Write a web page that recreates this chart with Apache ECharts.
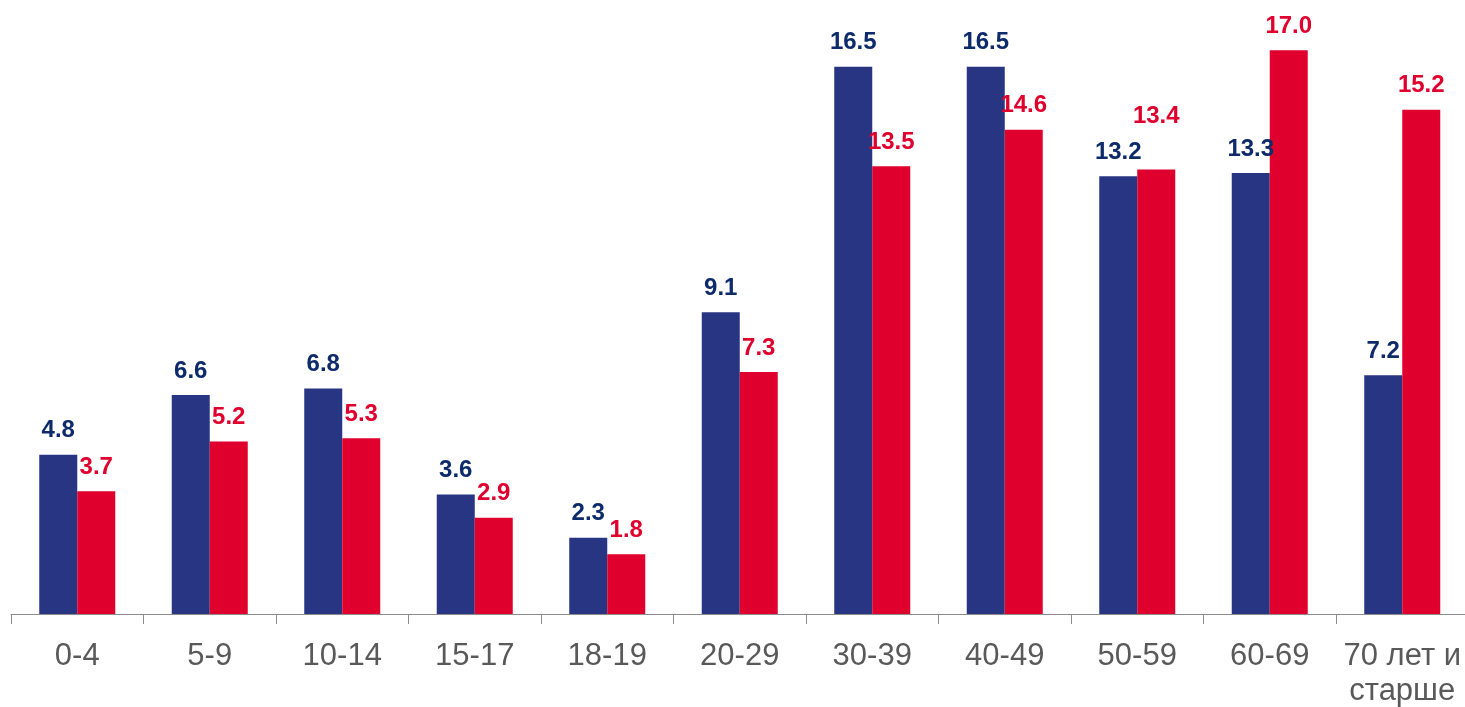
<!DOCTYPE html>
<html>
<head>
<meta charset="utf-8">
<script src="https://cdn.jsdelivr.net/npm/echarts@6/dist/echarts.min.js"></script>
<style>
  html, body { margin: 0; padding: 0; background: #fff; }
  #chart { width: 1465px; height: 707px; }
</style>
</head>
<body>
<div id="chart"></div>
<script>
const categories = ['0-4', '5-9', '10-14', '15-17', '18-19', '20-29', '30-39', '40-49', '50-59', '60-69', '70 лет и\nстарше'];
const blueValues = [4.8, 6.6, 6.8, 3.6, 2.3, 9.1, 16.5, 16.5, 13.2, 13.3, 7.2];
const redValues = [3.7, 5.2, 5.3, 2.9, 1.8, 7.3, 13.5, 14.6, 13.4, 17.0, 15.2];

const chart = echarts.init(document.getElementById('chart'));

const labelFont = {
  show: true,
  position: 'top',
  distance: 12,
  fontFamily: 'Liberation Sans, Arial, sans-serif',
  fontWeight: 'bold',
  fontSize: 24,
  formatter: p => p.value.toFixed(1)
};

// the 50-59 red label sits higher so it doesn't run into the blue one
const redData = redValues.map((v, i) => i === 8 ? {value: v, label: {offset: [0, -29]}} : v);

chart.setOption({
  animation: false,
  grid: { left: 11, top: 17, width: 1457.5, bottom: 93, outerBoundsMode: 'none' },
  xAxis: {
    type: 'category',
    data: categories,
    axisLine: { lineStyle: { color: '#8c8c8c', width: 1 } },
    axisTick: { show: true, length: 10, lineStyle: { color: '#8c8c8c' } },
    axisLabel: {
      color: '#595959',
      fontFamily: 'Liberation Sans, Arial, sans-serif',
      fontSize: 31,
      margin: 25,
      lineHeight: 35,
      interval: 0
    }
  },
  yAxis: {
    type: 'value',
    min: 0,
    max: 18,
    show: false,
    splitLine: { show: false }
  },
  series: [
    {
      type: 'bar',
      data: blueValues,
      barWidth: 38,
      barGap: '0%',
      itemStyle: { color: '#283583' },
      label: Object.assign({}, labelFont, { color: '#0d2a6b' })
    },
    {
      type: 'bar',
      data: redData,
      barWidth: 38,
      itemStyle: { color: '#e0002d' },
      label: Object.assign({}, labelFont, { color: '#e0002d' })
    }
  ]
});
</script>
</body>
</html>
